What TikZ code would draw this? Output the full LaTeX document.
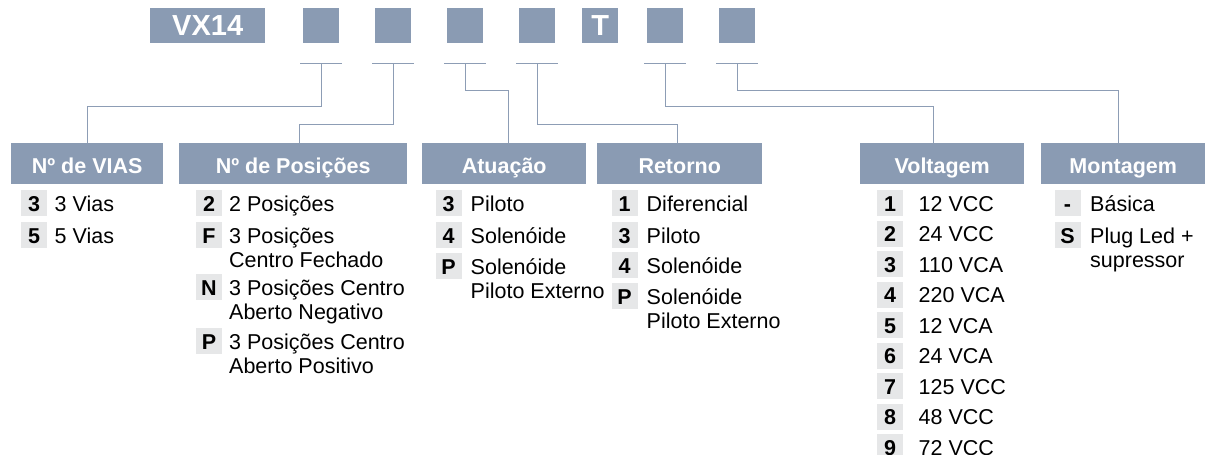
\documentclass[tikz,border=0pt]{standalone}
\usepackage{fontspec}
\setmainfont{Liberation Sans}
\usepackage{tikz}
\usetikzlibrary{positioning, calc}
\definecolor{hdblue}{HTML}{8A9BB3}
\definecolor{lnblue}{HTML}{8D9DB5}
\definecolor{codegray}{HTML}{E6E7E8}

\begin{document}
\begin{tikzpicture}[
    x=1pt, y=-1pt,
    topbox/.style={
        fill=hdblue, minimum width=#1, minimum height=35pt, inner sep=0pt,
        anchor=north west, text=white, font=\bfseries\fontsize{29}{30}\selectfont
    },
    head/.style={
        fill=hdblue, minimum width=#1, minimum height=41pt, inner sep=0pt,
        text height=19pt, text depth=0pt,
        anchor=north west, text=white, font=\bfseries\fontsize{21.5}{24}\selectfont
    },
    code/.style={
        fill=codegray, minimum size=26pt, inner sep=0pt,
        text height=16pt, text depth=0pt,
        font=\bfseries\fontsize{21.5}{24}\selectfont
    },
    item/.style={
        anchor=base west, inner sep=0pt, align=left,
        font=\fontsize{21.5}{24}\selectfont
    },
    link/.style={draw=lnblue, line width=1.2pt}
]
\useasboundingbox (0,0) rectangle (1205,455);

% ===== TOP: order code =====
\node[topbox=115pt] (vx) at (150,8) {VX14};
\foreach \i/\x/\t in {1/303/, 2/375/, 3/447/, 4/519/, 5/582/T, 6/647/, 7/719/} {
    \node[topbox=36pt] (b\i) at (\x,8) {\t};
}

% ===== HEADERS =====
\node[head=152pt] (hvias) at (11,143)   {Nº de VIAS};
\node[head=228pt] (hpos)  at (179,143)  {Nº de Posições};
\node[head=164pt] (hact)  at (422,143)  {Atuação};
\node[head=165pt] (hret)  at (597,143)  {Retorno};
\node[head=164pt] (hvolt) at (860,143)  {Voltagem};
\node[head=164pt] (hmont) at (1041,143) {Montagem};

% Ticks under the code boxes and their leaders
\foreach \k/\d/\h/\s in {1/43/hvias/0, 2/61/hpos/6, 3/27/hact/4,
                         4/61/hret/-2.5, 6/43/hvolt/-9, 7/27/hmont/-5} {
    \coordinate (k\k) at ([yshift=-20pt]b\k.south);
    \draw[link] ([xshift=-21pt]k\k) -- ([xshift=21pt]k\k);
    \draw[link] (k\k) -- ++(0,\d) -| ([xshift=\s pt]\h.north);
}

% ===== OPTIONS =====
% (\n = extra lines; base anchor sits on the last line)
% Nº de VIAS
\foreach \c/\t/\y [count=\i] in {3/3 Vias/203, 5/5 Vias/235} {
    \node[code] (cv\i) at (34,\y) {\c};
    \node[item] (tv\i) at (54.5,\y+8) {\t};
}

% Nº de Posições
\foreach \c/\t/\y/\n [count=\i] in {2/2 Posições/203/0,
        F/{3 Posições\\Centro Fechado}/235/1,
        N/{3 Posições Centro\\Aberto Negativo}/287/1,
        P/{3 Posições Centro\\Aberto Positivo}/341/1} {
    \node[code] (cp\i) at (209,\y) {\c};
    \node[item] (tp\i) at (229,\y+8+24*\n) {\t};
}

% Atuação
\foreach \c/\t/\y/\n [count=\i] in {3/Piloto/203/0, 4/Solenóide/235/0,
        P/{Solenóide\\Piloto Externo}/266/1} {
    \node[code] (ca\i) at (448.5,\y) {\c};
    \node[item] (ta\i) at (470.5,\y+8+24*\n) {\t};
}

% Retorno
\foreach \c/\t/\y/\n [count=\i] in {1/Diferencial/203/0, 3/Piloto/235/0,
        4/Solenóide/265/0, P/{Solenóide\\Piloto Externo}/296/1} {
    \node[code] (cr\i) at (624.5,\y) {\c};
    \node[item] (tr\i) at (646.5,\y+8+24*\n) {\t};
}

% Voltagem
\foreach \c/\t [count=\i] in {1/12 VCC, 2/24 VCC, 3/110 VCA, 4/220 VCA,
        5/12 VCA, 6/24 VCA, 7/125 VCC, 8/48 VCC, 9/72 VCC} {
    \node[code] (cu\i) at (890,{203+30.5*(\i-1)}) {\c};
    \node[item] (tu\i) at (918.5,{211+30.5*(\i-1)}) {\t};
}

% Montagem
\foreach \c/\t/\y/\n [count=\i] in {-/Básica/203/0, S/{Plug Led +\\supressor}/235/1} {
    \node[code] (cm\i) at (1067.5,\y) {\c};
    \node[item] (tm\i) at (1090,\y+8+24*\n) {\t};
}

\end{tikzpicture}
\end{document}
